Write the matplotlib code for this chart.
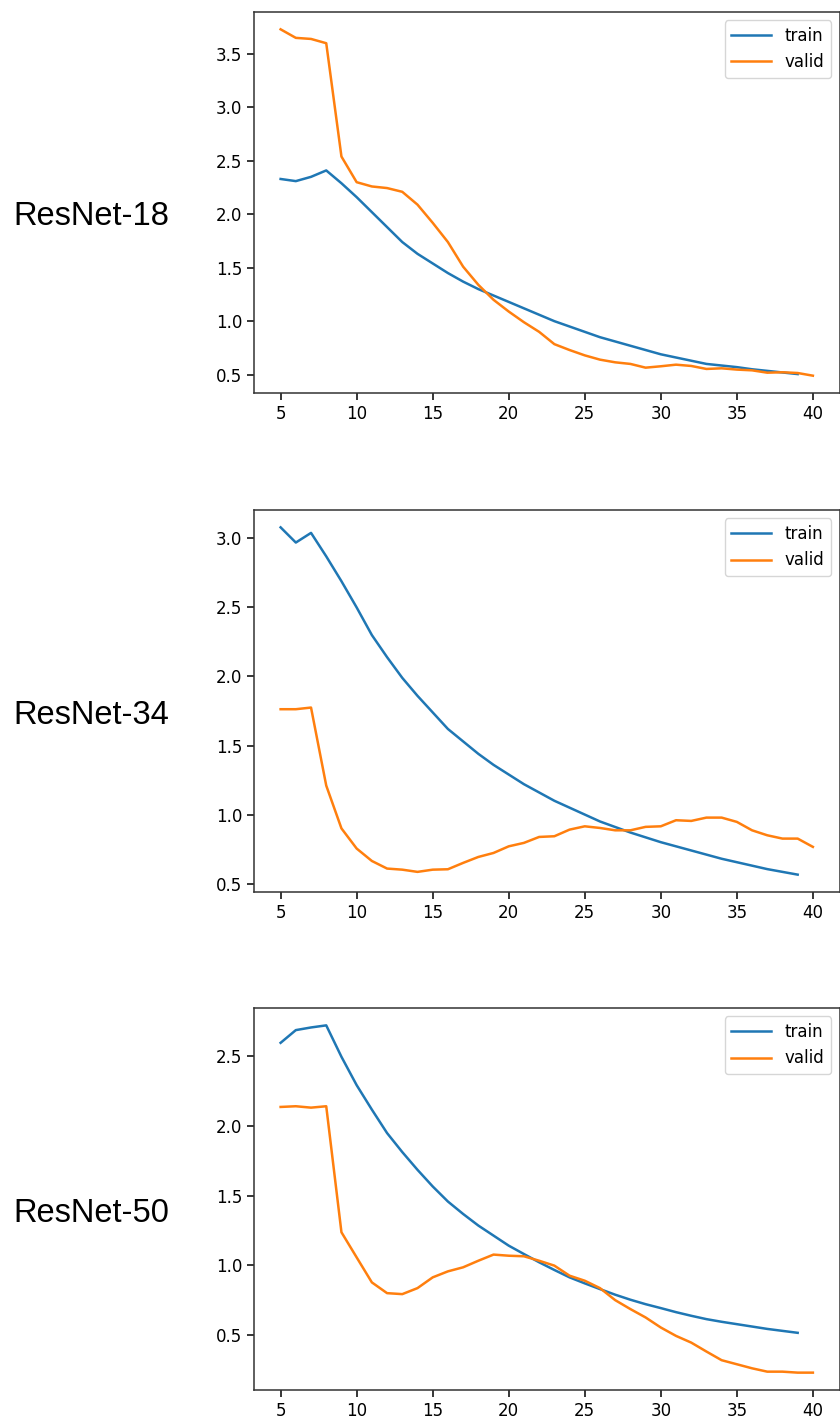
import numpy as np
import matplotlib.pyplot as plt

# epochs
ep_train = list(range(5, 40))
ep_valid = list(range(5, 41))

r18_train = [2.33, 2.31, 2.35, 2.41, 2.29, 2.16, 2.02, 1.88, 1.74, 1.63, 1.54, 1.45, 1.37,
             1.30, 1.24, 1.18, 1.12, 1.06, 1.00, 0.95, 0.90, 0.85, 0.81, 0.77, 0.73, 0.69,
             0.66, 0.63, 0.60, 0.585, 0.57, 0.55, 0.535, 0.52, 0.505]
r18_valid = [3.73, 3.65, 3.64, 3.60, 2.54, 2.30, 2.26, 2.245, 2.21, 2.09, 1.92, 1.74, 1.51,
             1.34, 1.20, 1.09, 0.99, 0.90, 0.785, 0.73, 0.68, 0.64, 0.615, 0.60, 0.565, 0.578,
             0.593, 0.581, 0.553, 0.559, 0.547, 0.54, 0.518, 0.522, 0.515, 0.49]

r34_train = [3.08, 2.97, 3.04, 2.87, 2.69, 2.50, 2.30, 2.14, 1.99, 1.86, 1.74, 1.62, 1.53,
             1.44, 1.36, 1.29, 1.22, 1.16, 1.10, 1.05, 1.00, 0.95, 0.91, 0.87, 0.835, 0.80,
             0.77, 0.74, 0.71, 0.68, 0.655, 0.63, 0.605, 0.585, 0.565]
r34_valid = [1.763, 1.763, 1.775, 1.21, 0.90, 0.754, 0.664, 0.609, 0.601, 0.585, 0.601, 0.604,
             0.65, 0.693, 0.722, 0.77, 0.795, 0.838, 0.843, 0.891, 0.915, 0.903, 0.886, 0.886,
             0.911, 0.915, 0.959, 0.954, 0.978, 0.978, 0.947, 0.886, 0.85, 0.826, 0.826, 0.766]

r50_train = [2.593, 2.684, 2.703, 2.718, 2.493, 2.29, 2.115, 1.947, 1.811, 1.684, 1.565,
             1.457, 1.368, 1.285, 1.213, 1.141, 1.081, 1.022, 0.967, 0.914, 0.871, 0.83, 0.79,
             0.754, 0.722, 0.694, 0.665, 0.639, 0.615, 0.596, 0.579, 0.562, 0.545, 0.531, 0.517]
r50_valid = [2.134, 2.139, 2.129, 2.139, 1.237, 1.057, 0.878, 0.801, 0.794, 0.837, 0.914,
             0.957, 0.986, 1.033, 1.077, 1.069, 1.065, 1.033, 0.998, 0.926, 0.89, 0.837, 0.751,
             0.687, 0.627, 0.555, 0.495, 0.447, 0.383, 0.321, 0.292, 0.263, 0.239, 0.239,
             0.232, 0.232]

names = ["ResNet-18", "ResNet-34", "ResNet-50"]
trains = [r18_train, r34_train, r50_train]
valids = [r18_valid, r34_valid, r50_valid]

W, H = 840, 1421
fig = plt.figure(figsize=(W / 100, H / 100), dpi=100)

# axes boxes in pixels: (top, bottom)
boxes = [(12, 393), (510, 892), (1008, 1390)]
left, right = 254, 839.5

for (top, bot), name, tr, va in zip(boxes, names, trains, valids):
    ax = fig.add_axes([left / W, 1 - bot / H, (right - left) / W, (bot - top) / H])
    ax.plot(ep_train, tr, color="#1f77b4", lw=1.8, label="train")
    ax.plot(ep_valid, va, color="#ff7f0e", lw=1.8, label="valid")
    ax.set_xticks([5, 10, 15, 20, 25, 30, 35, 40])
    ax.tick_params(labelsize=12, length=5, width=1.1)
    for s in ax.spines.values():
        s.set_linewidth(1.1)
        s.set_color("#333333")
    ax.legend(loc="upper right", fontsize=12, handlelength=2.4)
    fig.text(13 / W, 1 - ((top + bot) / 2 + 14) / H, name, ha="left", va="center",
             fontsize=23.5, family="Liberation Sans")

fig.savefig("out.png", dpi=100)
